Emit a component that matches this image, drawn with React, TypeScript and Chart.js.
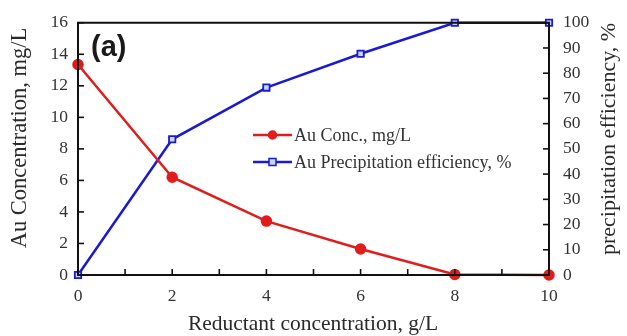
import React, { useEffect, useRef } from "react";
import { Chart, registerables } from "chart.js";

Chart.register(...registerables);

const reductant = [0, 2, 4, 6, 8, 10];
const auConc = [13.35, 6.2, 3.42, 1.65, 0.03, 0.0];
const precipEff = [0, 53.8, 74.3, 87.7, 100, 100];
const concLabel = "Au Conc., mg/L";
const effLabel = "Au Precipitation efficiency, %";
const xTitle = "Reductant concentration, g/L";
const yLeftTitle = "Au Concentration, mg/L";
const yRightTitle = "precipitation efficiency, %";
const panelLabel = "(a)";

const RED = "#e01c1c";
const BLUE = "#1a1ad0";
const SERIF = "'Liberation Serif', 'Times New Roman', serif";

const framePlugin = {
  id: "frame",
  afterDraw(chart: any) {
    const { ctx, chartArea: a, scales } = chart;
    ctx.save();
    ctx.strokeStyle = "#111";
    ctx.lineWidth = 2;
    ctx.strokeRect(a.left, a.top, a.right - a.left, a.bottom - a.top);
    ctx.lineWidth = 1.6;
    const tl = 6;
    scales.x.ticks.forEach((t: any) => {
      const px = scales.x.getPixelForValue(t.value);
      ctx.beginPath();
      ctx.moveTo(px, a.bottom);
      ctx.lineTo(px, a.bottom - tl);
      ctx.stroke();
    });
    scales.y.ticks.forEach((t: any) => {
      const py = scales.y.getPixelForValue(t.value);
      ctx.beginPath();
      ctx.moveTo(a.left, py);
      ctx.lineTo(a.left + tl, py);
      ctx.stroke();
    });
    scales.y1.ticks.forEach((t: any) => {
      const py = scales.y1.getPixelForValue(t.value);
      ctx.beginPath();
      ctx.moveTo(a.right, py);
      ctx.lineTo(a.right - tl, py);
      ctx.stroke();
    });

    // axis titles
    ctx.fillStyle = "#2a2a2a";
    ctx.font = `21.5px ${SERIF}`;
    ctx.textAlign = "center";
    ctx.textBaseline = "middle";
    ctx.fillText(xTitle, 313, 324);
    ctx.save();
    ctx.translate(20, 138);
    ctx.rotate(-Math.PI / 2);
    ctx.font = `22.5px ${SERIF}`;
    ctx.fillText(yLeftTitle, 0, 0);
    ctx.restore();
    ctx.save();
    ctx.translate(609, 139);
    ctx.rotate(-Math.PI / 2);
    ctx.font = `22px ${SERIF}`;
    ctx.fillText(yRightTitle, 0, 0);
    ctx.restore();

    // panel label
    ctx.font = "bold 29px 'Liberation Sans', Arial, sans-serif";
    ctx.textAlign = "left";
    ctx.textBaseline = "alphabetic";
    ctx.fillStyle = "#1a1a1a";
    ctx.fillText(panelLabel, 91, 56);

    // legend
    const lx0 = 253, lx1 = 292;
    const ys = [135, 162];
    chart.data.datasets.forEach((d: any, i: number) => {
      const y = ys[i];
      ctx.strokeStyle = d.borderColor;
      ctx.lineWidth = 2.5;
      ctx.beginPath();
      ctx.moveTo(lx0, y);
      ctx.lineTo(lx1, y);
      ctx.stroke();
      const cx = (lx0 + lx1) / 2;
      ctx.lineWidth = 1.5;
      ctx.fillStyle = d.pointBackgroundColor;
      if (d.pointStyle === "rect") {
        ctx.fillRect(cx - 3.5, y - 3.5, 7, 7);
        ctx.strokeRect(cx - 3.5, y - 3.5, 7, 7);
      } else {
        ctx.beginPath();
        ctx.arc(cx, y, 4, 0, Math.PI * 2);
        ctx.fill();
        ctx.stroke();
      }
      ctx.fillStyle = "#333";
      ctx.font = `18px ${SERIF}`;
      ctx.textBaseline = "middle";
      ctx.fillText(d.label, 294, y + 1);
    });
    ctx.restore();
  },
};

export default function App() {
  const ref = useRef<HTMLCanvasElement | null>(null);
  useEffect(() => {
    if (!ref.current) return;
    const tickFont = { family: SERIF, size: 17.5, lineHeight: 1 };
    const chart = new Chart(ref.current, {
      type: "line",
      data: {
        datasets: [
          {
            label: concLabel,
            data: reductant.map((x, i) => ({ x, y: auConc[i] })),
            borderColor: RED,
            backgroundColor: RED,
            pointBackgroundColor: RED,
            pointBorderColor: RED,
            pointStyle: "circle",
            pointRadius: 4.5,
            borderWidth: 2.5,
            yAxisID: "y",
            clip: false as any,
          },
          {
            label: effLabel,
            data: reductant.map((x, i) => ({ x, y: precipEff[i] })),
            borderColor: BLUE,
            backgroundColor: BLUE,
            pointBackgroundColor: "#c8d4f4",
            pointBorderColor: BLUE,
            pointStyle: "rect",
            pointRadius: 4.5,
            pointBorderWidth: 1.8,
            borderWidth: 2.5,
            yAxisID: "y1",
            clip: false as any,
          },
        ],
      },
      options: {
        responsive: false,
        animation: false,
        layout: { padding: { top: 22, left: 0, right: 0, bottom: 0 } },
        plugins: { legend: { display: false }, tooltip: { enabled: false } },
        scales: {
          x: {
            type: "linear",
            min: 0,
            max: 10,
            grid: { display: false, drawTicks: false },
            border: { display: false },
            ticks: {
              stepSize: 1,
              padding: 13,
              color: "#333",
              font: tickFont,
              callback: (v: any) => (Number(v) % 2 === 0 ? String(v) : ""),
              maxRotation: 0,
              autoSkip: false,
            },
            afterFit: (s: any) => {
              s.height = 61;
            },
          },
          y: {
            position: "left",
            min: 0,
            max: 16,
            grid: { display: false, drawTicks: false },
            border: { display: false },
            ticks: {
              stepSize: 2,
              padding: 10,
              color: "#333",
              font: tickFont,
            },
            afterFit: (s: any) => {
              s.width = 78;
            },
          },
          y1: {
            position: "right",
            min: 0,
            max: 100,
            grid: { display: false, drawTicks: false },
            border: { display: false },
            ticks: {
              stepSize: 10,
              padding: 14,
              color: "#333",
              font: tickFont,
            },
            afterFit: (s: any) => {
              s.width = 78;
            },
          },
        },
      },
      plugins: [framePlugin],
    });
    return () => chart.destroy();
  }, []);
  return (
    <div style={{ position: "absolute", left: 0, top: 0, width: 627, height: 336, background: "#fff" }}>
      <canvas ref={ref} width={627} height={336} style={{ display: "block" }} />
    </div>
  );
}
